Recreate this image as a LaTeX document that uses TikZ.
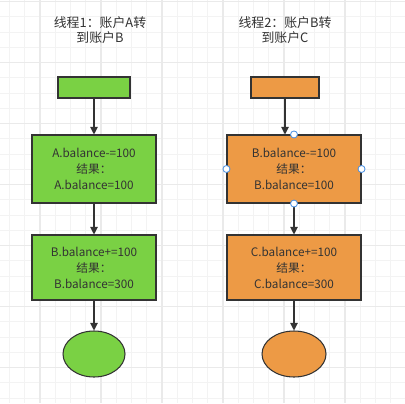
\documentclass[tikz,border=0pt]{standalone}
\usepackage{fontspec}
\setmainfont{Noto Sans CJK SC}
\usetikzlibrary{arrows.meta,shapes.geometric}
\definecolor{boxgreen}{HTML}{7AD144}
\definecolor{boxorange}{HTML}{ED9A45}
\definecolor{edge}{HTML}{333333}
\definecolor{gridminor}{HTML}{F3F3F3}
\definecolor{gridmajor}{HTML}{EAEAEA}
\definecolor{handle}{HTML}{4A90E2}

\begin{document}
\begin{tikzpicture}[x=0.03cm,y=-0.03cm,
  every node/.style={font=\fontsize{10pt}{13.6pt}\selectfont,text=edge,align=center},
  title/.style={font=\fontsize{11pt}{12.8pt}\selectfont},
  box/.style={draw=edge,line width=0.9pt,inner sep=0pt},
  flow/.style={-{Triangle[length=6.5pt,width=6.5pt]},draw=edge,line width=0.9pt}]
\useasboundingbox (0,0) rectangle (405,403);
\fill[white] (0,0) rectangle (405,403);
% background grid
\foreach \i in {0,...,26}{\draw[gridminor,line width=0.9pt] (9.5+15.25*\i,0)--++(0,403);\draw[gridminor,line width=0.9pt] (0,1.7+15.25*\i)--++(405,0);}
\foreach \i in {0,...,6}{\draw[gridmajor,line width=1pt] (40+61*\i-61,0)--++(0,403);\draw[gridmajor,line width=1pt] (0,1.7+61*\i)--++(405,0);}
% thread 1
\node[title] (t1) at (100,30) {线程1：账户A转\\到账户B};
\node[box,fill=boxgreen,minimum width=72*0.03cm,minimum height=21*0.03cm] (s1) at (94,87.5) {};
\node[box,fill=boxgreen,minimum width=124*0.03cm,minimum height=68*0.03cm] (a1) at (94,169) {A.balance-=100\\结果：\\A.balance=100};
\node[box,fill=boxgreen,minimum width=124*0.03cm,minimum height=65*0.03cm] (b1) at (94,267.5) {B.balance+=100\\结果：\\B.balance=300};
\node[box,ellipse,fill=boxgreen,minimum width=62*0.03cm,minimum height=46*0.03cm] (e1) at (94,354) {};
\draw[flow] (s1)--(a1);
\draw[flow] (a1)--(b1);
\draw[flow] (b1)--(e1);
% thread 2
\node[title] (t2) at (285,30) {线程2：账户B转\\到账户C};
\node[box,fill=boxorange,minimum width=68*0.03cm,minimum height=21*0.03cm] (s2) at (285,87.5) {};
\node[box,fill=boxorange,minimum width=134*0.03cm,minimum height=68*0.03cm] (a2) at (294,169) {B.balance-=100\\结果：\\B.balance=100};
\node[box,fill=boxorange,minimum width=134*0.03cm,minimum height=65*0.03cm] (b2) at (294,267.5) {C.balance+=100\\结果：\\C.balance=300};
\node[box,ellipse,fill=boxorange,minimum width=64*0.03cm,minimum height=46*0.03cm] (e2) at (294,354) {};
\draw[flow] (s2.south)--(s2.south|-a2.north);
\draw[flow] (a2)--(b2);
\draw[flow] (b2)--(e2);
% selection handles
\foreach \p in {north,west,east,south}{\draw[handle,fill=white,line width=0.7pt] (a2.\p) circle (3.5);}
\end{tikzpicture}
\end{document}
